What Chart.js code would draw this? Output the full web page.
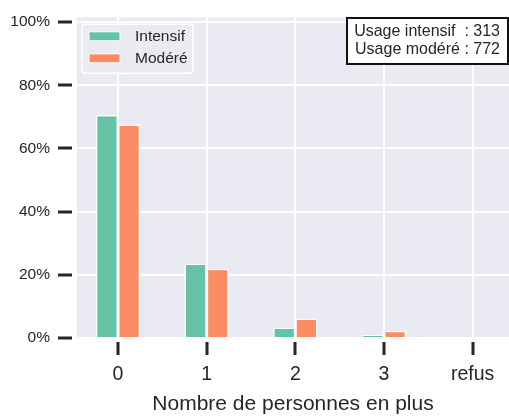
<!DOCTYPE html>
<html>
<head>
<meta charset="utf-8">
<script src="https://cdn.jsdelivr.net/npm/chart.js@4"></script>
<style>
html, body { margin: 0; padding: 0; background: #fff; }
</style>
</head>
<body>
<canvas id="chart" width="509" height="417"></canvas>
<script>
// categories on the x axis (positions 0..4)
var categories = ['0', '1', '2', '3', 'refus'];
// share of each group, in percent
var intensif = [70.6, 23.6, 3.3, 1.0, 0];
var modere = [67.6, 21.9, 6.2, 2.3, 0];
var seriesNames = ['Intensif', 'Modéré'];
var yTicks = [0, 20, 40, 60, 80, 100];
var noteLines = ['Usage intensif  : 313', ' Usage modéré : 772'];
var xTitle = 'Nombre de personnes en plus';

var FONT = '"Liberation Sans", Arial, Helvetica, sans-serif';
var TEXT = '#262626';
Chart.defaults.font.family = FONT;
Chart.defaults.color = TEXT;

// grey plot background like seaborn darkgrid
var backdrop = {
    id: 'backdrop',
    beforeDraw: function(chart) {
        var a = chart.chartArea;
        var ctx = chart.ctx;
        ctx.save();
        ctx.fillStyle = '#eaeaf2';
        ctx.fillRect(a.left, a.top, a.right - a.left, a.bottom - a.top);
        ctx.restore();
    }
};

// legend box (top left) and the count box (top right)
var boxes = {
    id: 'boxes',
    afterDraw: function(chart) {
        var ctx = chart.ctx;
        var a = chart.chartArea;
        ctx.save();

        var lx = a.left + 5, ly = a.top + 7, lw = 111, lh = 49;
        ctx.beginPath();
        ctx.roundRect(lx, ly, lw, lh, 3);
        ctx.fillStyle = 'rgba(234,234,242,0.9)';
        ctx.fill();
        ctx.lineWidth = 1.5;
        ctx.strokeStyle = '#ffffff';
        ctx.stroke();

        ctx.font = '15.5px ' + FONT;
        ctx.textBaseline = 'middle';
        ctx.textAlign = 'left';
        chart.data.datasets.forEach(function(ds, i) {
            var y = ly + 12 + i * 22;
            ctx.fillStyle = ds.backgroundColor;
            ctx.fillRect(lx + 7, y - 4.5, 31, 9);
            ctx.lineWidth = 1;
            ctx.strokeStyle = '#ffffff';
            ctx.strokeRect(lx + 7, y - 4.5, 31, 9);
            ctx.fillStyle = TEXT;
            ctx.fillText(ds.label, lx + 53, y);
        });

        var bx = 347, by = 18, bw = 161, bh = 46;
        ctx.fillStyle = '#ffffff';
        ctx.fillRect(bx, by, bw, bh);
        ctx.lineWidth = 2;
        ctx.strokeStyle = '#111111';
        ctx.strokeRect(bx, by, bw, bh);
        ctx.fillStyle = TEXT;
        ctx.textAlign = 'right';
        ctx.font = '16px ' + FONT;
        noteLines.forEach(function(line, i) {
            ctx.fillText(line, bx + bw - 8, by + 14 + i * 18);
        });
        ctx.restore();
    }
};

var ctx = document.getElementById('chart').getContext('2d');
new Chart(ctx, {
    type: 'bar',
    data: {
        labels: categories.map(function(c, i) { return i; }),
        datasets: [
            {
                label: seriesNames[0],
                data: intensif,
                backgroundColor: '#66c2a5',
                borderColor: '#ffffff',
                borderWidth: 1.5,
                categoryPercentage: 0.5,
                barPercentage: 1.0
            },
            {
                label: seriesNames[1],
                data: modere,
                backgroundColor: '#fc8d62',
                borderColor: '#ffffff',
                borderWidth: 1.5,
                categoryPercentage: 0.5,
                barPercentage: 1.0
            }
        ]
    },
    options: {
        responsive: false,
        animation: false,
        events: [],
        layout: { padding: { top: 13, right: 0, bottom: 0, left: 0 } },
        plugins: {
            legend: { display: false },
            tooltip: { enabled: false }
        },
        scales: {
            x: {
                type: 'linear',
                min: -0.462,
                max: 4.41,
                offset: false,
                afterFit: function(scale) { scale.height = 79; },
                afterBuildTicks: function(scale) {
                    scale.ticks = categories.map(function(c, i) { return { value: i }; });
                },
                border: { display: false },
                grid: {
                    offset: false,
                    color: '#ffffff',
                    lineWidth: 2,
                    tickColor: TEXT,
                    tickWidth: 3,
                    tickLength: 17,
                    tickBorderDash: [0, 4, 13, 100]
                },
                ticks: {
                    padding: 8,
                    font: { size: 19.5 },
                    color: TEXT,
                    callback: function(v) { return categories[v]; }
                },
                title: {
                    display: true,
                    text: xTitle,
                    color: TEXT,
                    font: { size: 21 },
                    padding: { top: 0, bottom: 0 }
                }
            },
            y: {
                min: 0,
                max: 101.5,
                afterFit: function(scale) { scale.width = 77; },
                afterBuildTicks: function(scale) {
                    scale.ticks = yTicks.map(function(v) { return { value: v }; });
                },
                border: { display: false },
                grid: {
                    color: '#ffffff',
                    lineWidth: 2,
                    tickColor: TEXT,
                    tickWidth: 3,
                    tickLength: 19,
                    tickBorderDash: [14, 100]
                },
                ticks: {
                    padding: 8,
                    font: { size: 15.5 },
                    color: TEXT,
                    callback: function(v) { return v + '%'; }
                }
            }
        }
    },
    plugins: [backdrop, boxes]
});
</script>
</body>
</html>
